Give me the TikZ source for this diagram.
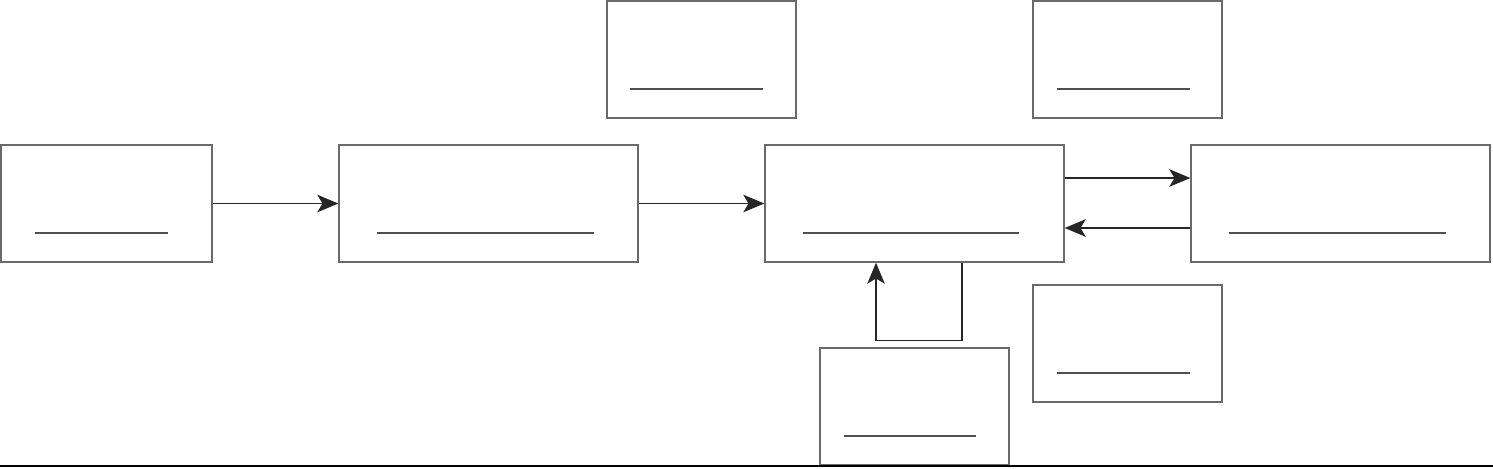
\documentclass[tikz,border=0pt]{standalone}
\usetikzlibrary{arrows.meta}
\definecolor{boxgray}{HTML}{6A6A6A}
\definecolor{blankgray}{HTML}{505050}
\tikzset{
  box/.style={draw=boxgray,line width=.8pt,minimum height=2.34cm,inner sep=0pt},
  wide/.style={box,minimum width=5.98cm},
  small/.style={box,minimum width=3.78cm},
  blank/.style={draw=blankgray,line width=1.5pt},
  arr/.style={draw=black!85,line width=.7pt,-{Stealth[length=12pt,width=10pt,inset=3pt]}}
}
\begin{document}
\begin{tikzpicture}[x=0.02cm,y=-0.02cm]
\useasboundingbox(0,0)rectangle(1493,468);
% main row
\node[box,minimum width=4.22cm](src)at(106.5,203.5){};
\node[wide](stepb)at(488.5,203.5){};
\node[wide](core)at(914.5,203.5){};
\node[wide](partner)at(1340.5,203.5){};
% side boxes
\node[small](topl)at(701.5,59.5){};\node[small](topr)at(1127.5,59.5){};
\node[small](lowr)at(1127.5,343.5){};\node[small](feed)at(914.5,406.5){};
% blanks
\draw[blank](35,233)--(168,233);\draw[blank](377,233)--(594,233);
\draw[blank](803,233)--(1019,233);\draw[blank](1229,233)--(1446,233);
\draw[blank](630,89)--(763,89);\draw[blank](1057,89)--(1190,89);
\draw[blank](1057,373)--(1190,373);\draw[blank](844,436)--(976,436);
% connectors
\draw[arr](src)--(stepb);\draw[arr](stepb)--(core);
\draw[arr]([yshift=.51cm]core.east)--([yshift=.51cm]partner.west);
\draw[arr]([yshift=-.49cm]partner.west)--([yshift=-.49cm]core.east);
\draw[arr]([xshift=.95cm]core.south)--++(0,78)-|([xshift=-.77cm]core.south);
\draw[line width=1.2pt](0,466)--(1493,466);
\end{tikzpicture}
\end{document}
